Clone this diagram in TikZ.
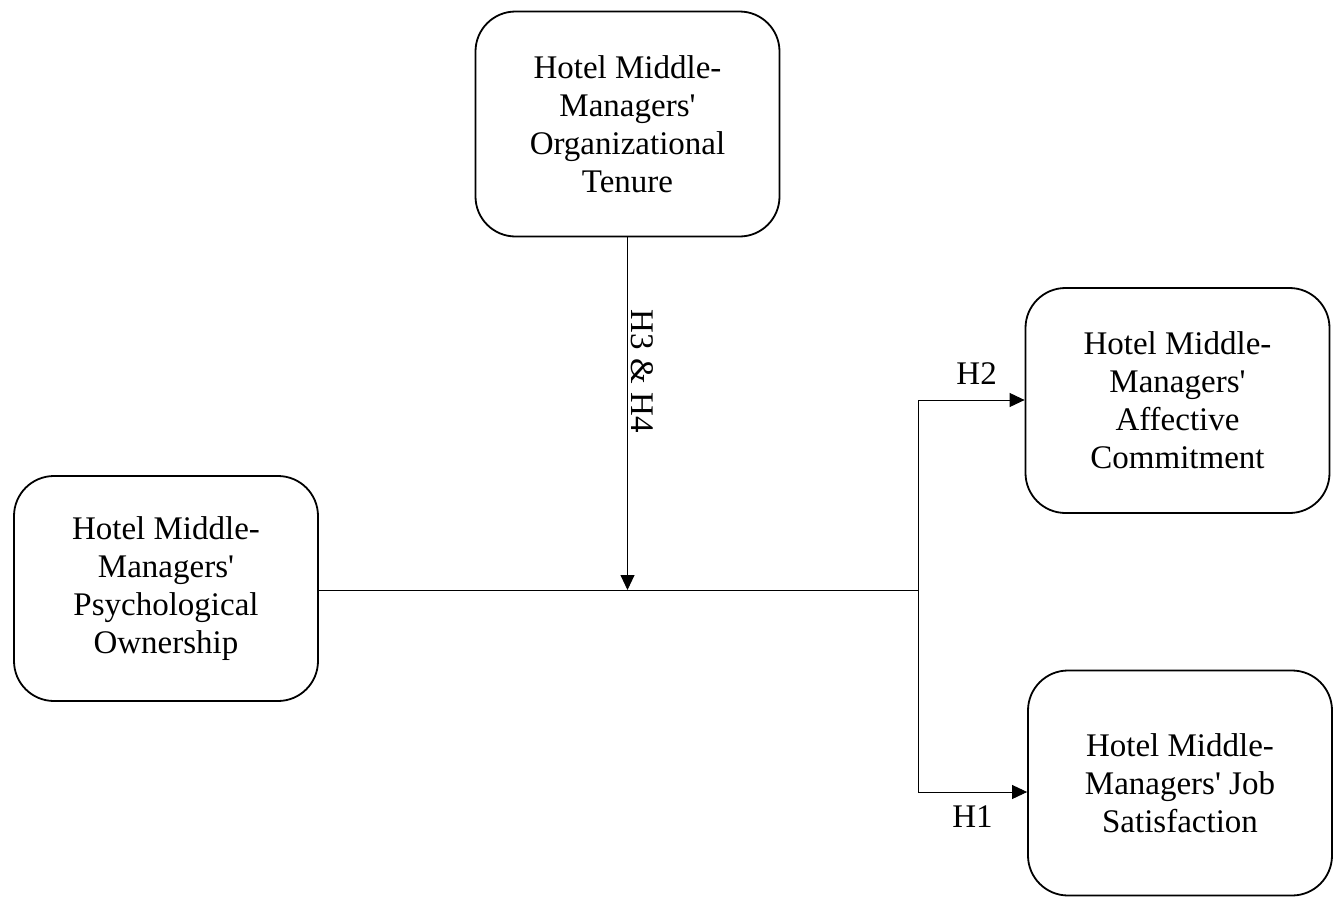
\documentclass[tikz,border=0pt]{standalone}
\usepackage{fontspec}
\setmainfont{Liberation Serif}
\usetikzlibrary{arrows.meta}
\tikzset{construct/.style={draw, line width=1.8pt, rounded corners=40pt, minimum width=304pt, minimum height=225pt, align=center, font=\fontsize{33}{38}\selectfont}}
\begin{document}
\begin{tikzpicture}[x=1pt, y=-1pt, line width=0.9pt, >={Triangle[length=15pt, width=14pt]}]
    \useasboundingbox (0,0) rectangle (1342,897);
    \node[construct] (tenure) at (627.5,124) {Hotel Middle-\\Managers\textquotesingle\\Organizational\\Tenure};
    \node[construct] (own) at (166,588.5) {Hotel Middle-\\Managers\textquotesingle\\Psychological\\Ownership};
    \node[construct] (commit) at (1177.5,400.5) {Hotel Middle-\\Managers\textquotesingle\\Affective\\Commitment};
    \node[construct] (satis) at (1180,783) {Hotel Middle-\\Managers\textquotesingle{} Job\\Satisfaction};
    \coordinate (split) at (918,590);
    \coordinate (meet) at (627.5,590);
    \coordinate (up) at (918,400);
    \coordinate (down) at (918,792);
    \draw (own.east |- split) -- (split);
    \draw (up) -- (down);
    \draw[->] (up) -- (commit.west |- up) node[pos=0.55, above=12pt, font=\fontsize{33}{38}\selectfont] {H2};
    \draw[->] (down) -- (satis.west |- down) node[pos=0.5, below=10pt, font=\fontsize{33}{38}\selectfont] {H1};
    \draw[->] (tenure.south) -- (meet) node[pos=0.38, right=0pt, rotate=-90, anchor=south, font=\fontsize{33}{38}\selectfont] {H3 \& H4};
\end{tikzpicture}
\end{document}
